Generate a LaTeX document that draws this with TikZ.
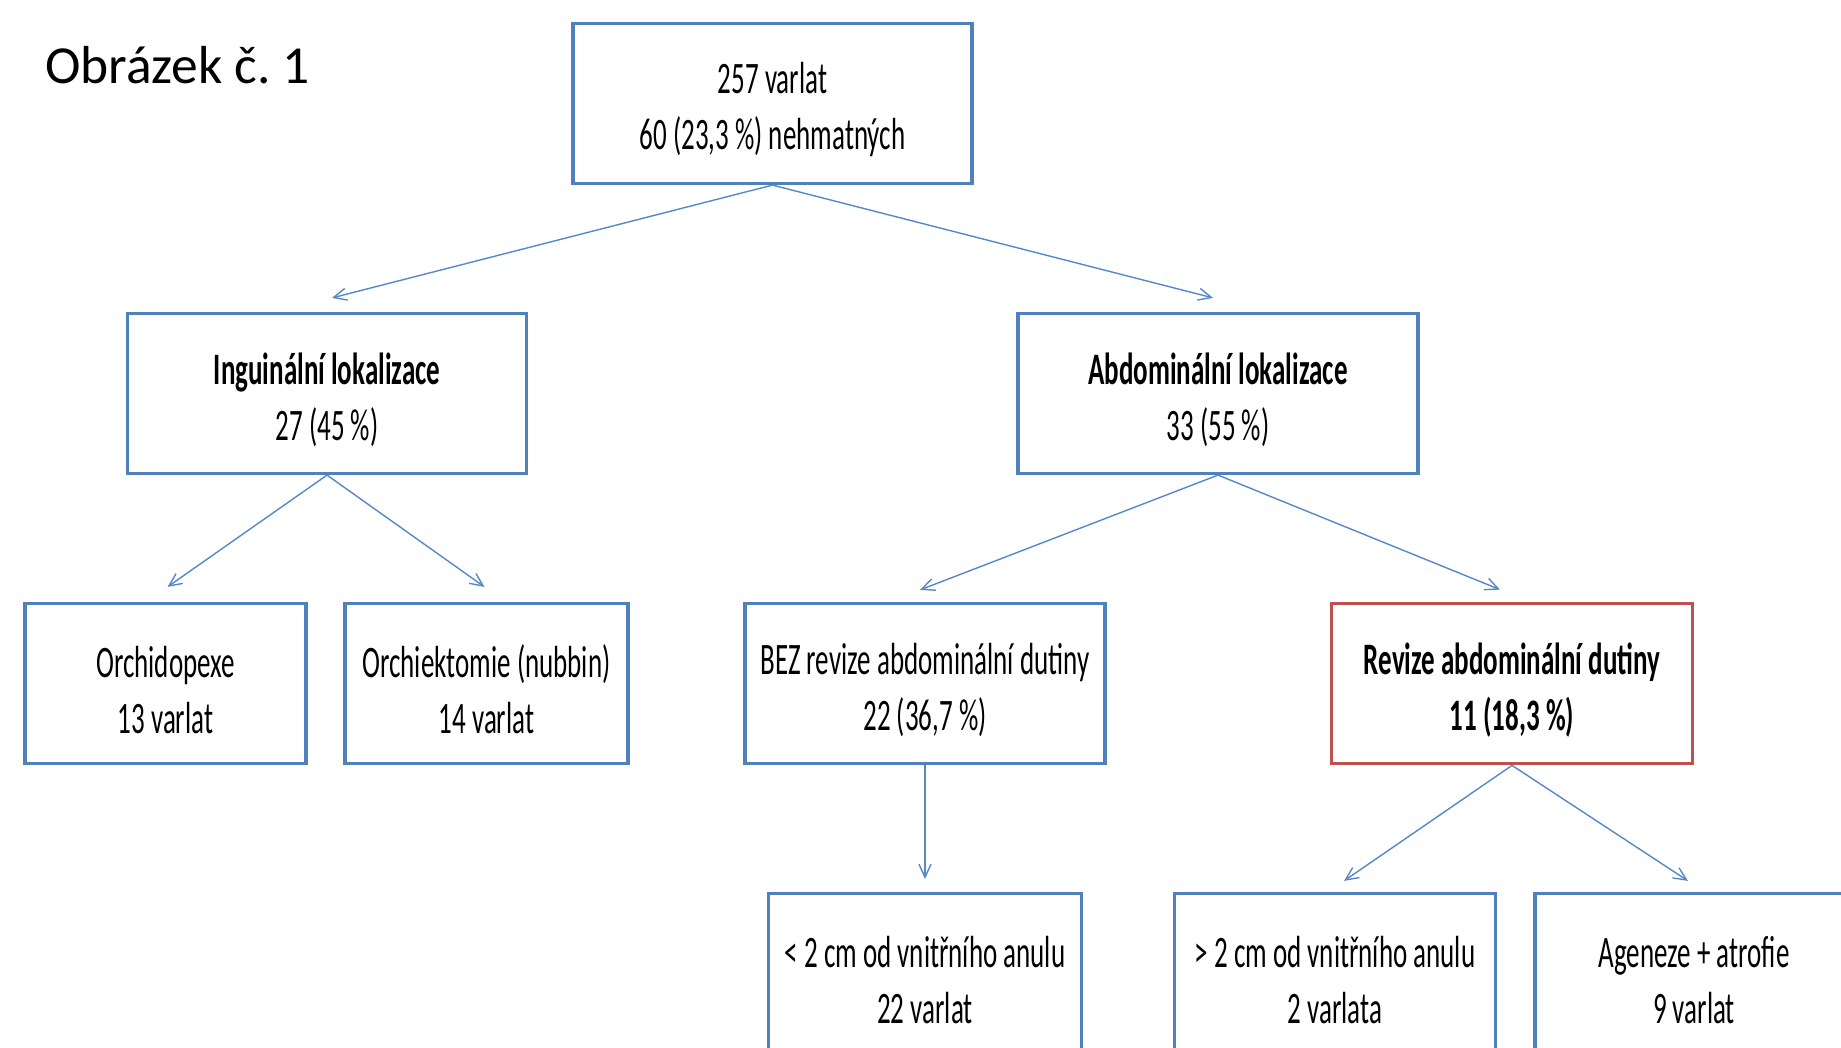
\documentclass[tikz,border=0pt]{standalone}
\usepackage{fontspec}
\setmainfont{Carlito}
\newfontfamily\boxfont[FakeStretch=0.6]{Carlito}
\usetikzlibrary{positioning, arrows.meta}
\definecolor{boxblue}{RGB}{79,129,189}
\definecolor{boxred}{RGB}{192,80,77}
\definecolor{lineblue}{RGB}{86,136,198}
\tikzset{
	x=1pt, y=-1pt, % one unit is one pixel, y runs downwards
	node distance=290pt, % distance between two levels of the tree
	varbox/.style={draw=boxblue, line width=3.2pt, fill=white, minimum height=160pt, inner sep=0pt, align=center, font=\boxfont\fontsize{45}{56}\selectfont, execute at begin node={\rule{0pt}{100pt}}}, % every box
	redbox/.style={varbox, draw=boxred, line width=3.8pt, font=\boxfont\bfseries\fontsize{45}{56}\selectfont}, % the marked box
	arr/.style={draw=lineblue, line width=1.4pt, -{Straight Barb[length=13pt, width=12pt, line width=1.4pt]}}, % the edges
}

\begin{document}
\begin{tikzpicture}
	\clip (0,0) rectangle (1841,1047);
	\node[anchor=base west, font=\fontsize{53.5}{64}\selectfont] (title) at (41.5,83) {Obrázek č.~1};
	\node[varbox, minimum width=399pt] (top) at (772.5,103.5) {257 varlat\\60 (23,3 \%) nehmatných};
	\node[varbox, minimum width=399pt, below of=top, xshift=-445.5pt] (ingu) {\textbf{Inguinální lokalizace}\\27 (45 \%)};
	\node[varbox, minimum width=400pt, below of=top, xshift=445.5pt] (abdo) {\textbf{Abdominální lokalizace}\\33 (55 \%)};
	\node[varbox, minimum width=281pt, below of=ingu, xshift=-161.5pt] (orpx) {Orchidopexe\\13 varlat};
	\node[varbox, minimum width=283pt, below of=ingu, xshift=159.5pt] (orek) {Orchiektomie (nubbin)\\14 varlat};
	\node[varbox, minimum width=360pt, below of=abdo, xshift=-293pt] (bez) {BEZ revize abdominální dutiny\\22 (36,7 \%)};
	\node[redbox, minimum width=361pt, below of=abdo, xshift=294pt] (rev) {Revize abdominální dutiny\\11 (18,3 \%)};
	\node[varbox, minimum width=313pt, below of=bez] (mens) {< 2 cm od vnitřního anulu\\22 varlat};
	\node[varbox, minimum width=321pt, below of=rev, xshift=-177pt] (vets) {> 2 cm od vnitřního anulu\\2 varlata};
	\node[varbox, minimum width=318pt, below of=rev, xshift=182pt] (agen) {Ageneze + atrofie\\9 varlat};
	\draw[arr] (top.south) -- ([xshift=5pt, yshift=14pt]ingu.north);
	\draw[arr] (top.south) -- ([xshift=-5pt, yshift=14pt]abdo.north);
	\draw[arr] (ingu.south) -- ([xshift=2pt, yshift=15pt]orpx.north);
	\draw[arr] (ingu.south) -- ([xshift=-2pt, yshift=15pt]orek.north);
	\draw[arr] (abdo.south) -- ([xshift=-5pt, yshift=12pt]bez.north);
	\draw[arr] (abdo.south) -- ([xshift=-12pt, yshift=12pt]rev.north);
	\draw[arr] (bez.south) -- ([yshift=13pt]mens.north);
	\draw[arr] (rev.south) -- ([xshift=9pt, yshift=11pt]vets.north);
	\draw[arr] (rev.south) -- ([xshift=-6pt, yshift=11pt]agen.north);
\end{tikzpicture}
\end{document}
